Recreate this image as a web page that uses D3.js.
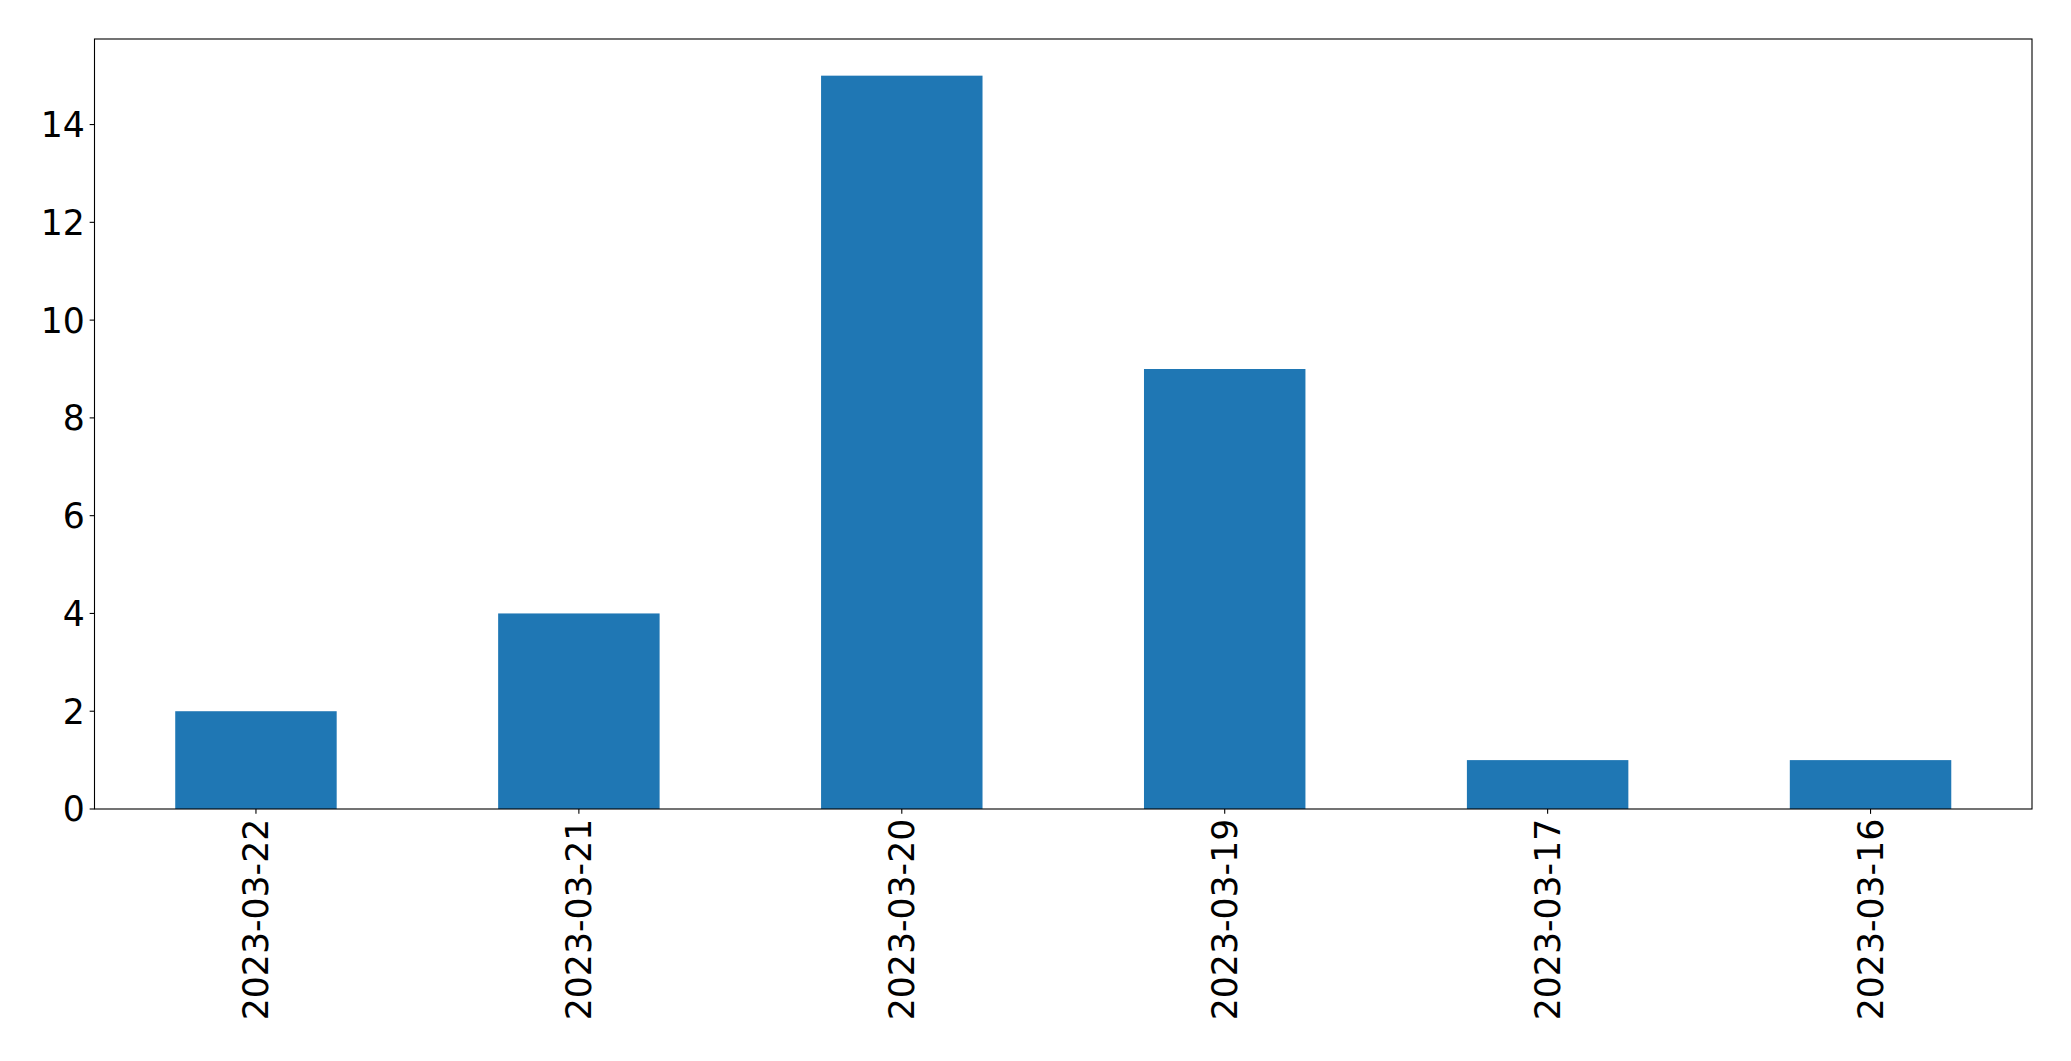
<!DOCTYPE html>
<html>
<head>
<meta charset="utf-8">
<script src="https://cdn.jsdelivr.net/npm/d3@7"></script>
<style>
html,body{margin:0;padding:0;background:#fff;}
svg{display:block;}
</style>
</head>
<body>
<script>
const categories = ["2023-03-22","2023-03-21","2023-03-20","2023-03-19","2023-03-17","2023-03-16"];
const values = [2, 4, 15, 9, 1, 1];
const yTicks = [0, 2, 4, 6, 8, 10, 12, 14];

const W = 2071, H = 1061;
const plotLeft = 94.5, plotRight = 2032, plotTop = 39, plotBottom = 809;
const fontSize = 34.7;
const tickLen = 4.86, pad = 4.86;

const svg = d3.select("body").append("svg").attr("width", W).attr("height", H);

const x = d3.scaleLinear().domain([-0.5, categories.length - 0.5]).range([plotLeft, plotRight]);
const yMax = d3.max(values) * 1.05;
const y = d3.scaleLinear().domain([0, yMax]).range([plotBottom, plotTop]);

// bars
svg.append("g").selectAll("rect").data(values).join("rect")
  .attr("x", (d, i) => x(i - 0.25))
  .attr("width", (d, i) => x(i + 0.25) - x(i - 0.25))
  .attr("y", d => y(d))
  .attr("height", d => y(0) - y(d))
  .attr("fill", "#1f77b4");

// y axis ticks
const yg = svg.append("g");
yg.selectAll("line").data(yTicks).join("line")
  .attr("x1", plotLeft - tickLen).attr("x2", plotLeft)
  .attr("y1", d => y(d)).attr("y2", d => y(d))
  .attr("stroke", "#000").attr("stroke-width", 1.1);
yg.selectAll("text").data(yTicks).join("text")
  .attr("x", plotLeft - tickLen - pad)
  .attr("y", d => y(d))
  .attr("dy", "0.36em")
  .attr("text-anchor", "end")
  .attr("font-family", "DejaVu Sans")
  .attr("font-size", fontSize)
  .attr("fill", "#000")
  .text(d => d);

// x axis ticks
const xg = svg.append("g");
xg.selectAll("line").data(categories).join("line")
  .attr("x1", (d, i) => x(i)).attr("x2", (d, i) => x(i))
  .attr("y1", plotBottom).attr("y2", plotBottom + tickLen)
  .attr("stroke", "#000").attr("stroke-width", 1.1);
xg.selectAll("text").data(categories).join("text")
  .attr("transform", (d, i) => `translate(${x(i)},${plotBottom + tickLen + pad}) rotate(-90)`)
  .attr("dy", "0.36em")
  .attr("text-anchor", "end")
  .attr("font-family", "DejaVu Sans")
  .attr("font-size", fontSize)
  .attr("fill", "#000")
  .text(d => d);

// frame
svg.append("rect")
  .attr("x", plotLeft).attr("y", plotTop)
  .attr("width", plotRight - plotLeft).attr("height", plotBottom - plotTop)
  .attr("fill", "none").attr("stroke", "#000").attr("stroke-width", 1.1);
</script>
</body>
</html>
